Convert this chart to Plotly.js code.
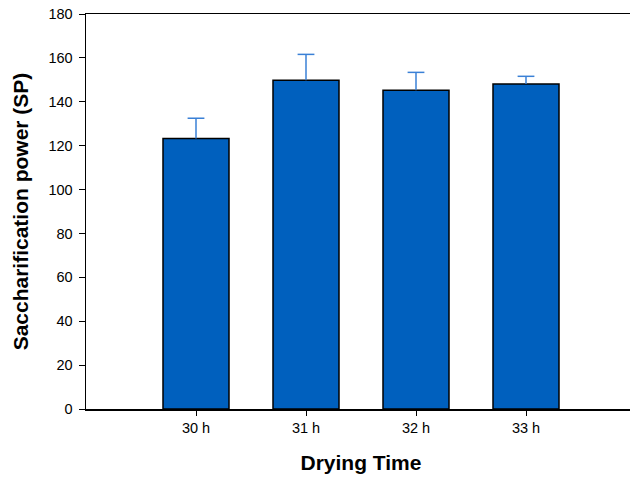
<!DOCTYPE html>
<html><head><meta charset="utf-8">
<script src="https://cdn.plot.ly/plotly-3.0.1.min.js"></script>
<style>html,body{margin:0;padding:0;overflow:hidden;background:#fff;}</style>
</head><body>
<div id="chart" style="width:640px;height:482px;"></div>
<script>
const categories = ["30 h", "31 h", "32 h", "33 h"];
const positions = [1, 2, 3, 4];
const saccharificationPower = [123.3, 149.8, 145.2, 148.1];
const errorUpper = [9.2, 11.8, 8.2, 3.5];
const yTicks = [0, 20, 40, 60, 80, 100, 120, 140, 160, 180];

const font = "Liberation Sans, Arial, sans-serif";
const bars = {
  type: "bar",
  x: positions,
  y: saccharificationPower,
  width: 0.6,
  marker: { color: "#0060be", line: { color: "#000000", width: 1.5 } },
  hoverinfo: "none"
};
// upper-only error bars: stem drawn down from the top, cap as a marker at the top
const errTops = saccharificationPower.map((v, i) => v + errorUpper[i]);
const errors = {
  type: "scatter",
  mode: "markers",
  x: positions,
  y: errTops,
  marker: { symbol: "line-ew-open", size: 12, color: "#3a80d6", line: { color: "#3a80d6", width: 1.5 } },
  error_y: {
    type: "data", symmetric: false,
    array: errorUpper.map(() => 0),
    arrayminus: errorUpper,
    color: "#3a80d6", thickness: 1.5, width: 0
  },
  hoverinfo: "none"
};
const layout = {
  width: 640, height: 482,
  margin: { l: 86, r: 4, t: 14, b: 73 },
  paper_bgcolor: "#ffffff", plot_bgcolor: "#ffffff",
  showlegend: false,
  font: { family: font, color: "#000000", size: 14.5 },
  xaxis: {
    range: [0, 5], tickmode: "array", tickvals: positions, ticktext: categories,
    showline: true, linecolor: "#000000", linewidth: 1.5, mirror: true,
    ticks: "outside", ticklen: 5, tickwidth: 1, tickcolor: "#000000",
    showgrid: false, zeroline: false,
    tickfont: { family: font, size: 14.5, color: "#000000" },
    title: { text: "Drying Time", font: { family: font, size: 21, color: "#000000", weight: "bold" }, standoff: 20 }
  },
  yaxis: {
    range: [0, 180], tickmode: "array", tickvals: yTicks,
    showline: true, linecolor: "#000000", linewidth: 1.5, mirror: true,
    ticks: "outside", ticklen: 6, tickwidth: 1, tickcolor: "#000000",
    showgrid: false, zeroline: false,
    ticklabelstandoff: 3,
    tickfont: { family: font, size: 14.5, color: "#000000" },
    title: { text: "Saccharification power (SP)", font: { family: font, size: 21, color: "#000000", weight: "bold" }, standoff: 14 }
  }
};
Plotly.newPlot("chart", [bars, errors], layout, { displayModeBar: false, staticPlot: true });
</script>
</body></html>
